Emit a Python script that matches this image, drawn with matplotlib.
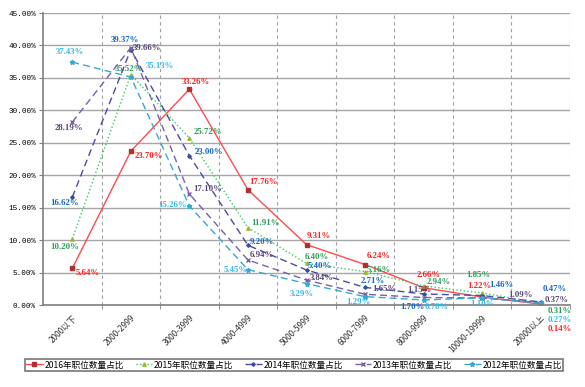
import numpy as np
import matplotlib
matplotlib.use('Agg')
import matplotlib.pyplot as plt

plt.rcParams['font.family'] = ['Noto Sans CJK SC', 'DejaVu Sans']

# salary bands and share of job postings (%) per year
categories = ['2000以下', '2000-2999', '3000-3999', '4000-4999', '5000-5999',
              '6000-7999', '8000-9999', '10000-19999', '20000以上']
y2016 = [5.64, 23.70, 33.26, 17.76, 9.31, 6.24, 2.66, 1.22, 0.14]
y2015 = [10.20, 35.52, 25.72, 11.91, 6.40, 5.16, 2.94, 1.85, 0.31]
y2014 = [16.62, 39.37, 23.00, 9.20, 5.40, 2.71, 1.70, 1.46, 0.47]
y2013 = [28.19, 39.66, 17.10, 6.94, 3.84, 1.65, 1.15, 1.09, 0.37]
y2012 = [37.43, 35.13, 15.26, 5.45, 3.29, 1.29, 0.78, 1.10, 0.27]
names = ['2016年职位数量占比', '2015年职位数量占比', '2014年职位数量占比',
         '2013年职位数量占比', '2012年职位数量占比']

# label offsets in pixels (dx to left edge of text, dy up)
offs = {
    '2016': [(3, -5), (4, -5), (-8, 7), (1, 8), (0, 9), (2, 9), (-7, 13), (-15, 11), (7, -25)],
    '2015': [(-22, -8), (-16, 6), (4, 6), (3, 5), (-2, 6), (2, 2), (3, 4), (-16, 18), (7, -8)],
    '2014': [(-22, -6), (-20, 10), (5, 4), (2, 3), (1, 4), (-4, 6), (-23, -13), (7, 11), (2, 13)],
    '2013': [(-18, -6), (2, 0), (4, 5), (2, 5), (3, 2), (7, 5), (-16, 8), (26, 3), (4, 3)],
    '2012': [(-17, 10), (15, 11), (-31, 1), (-24, 0), (-17, -10), (-19, -5), (1, -7), (-12, -6), (7, -17)],
}

series = [
    ('2016', y2016, dict(color='#FF4B4B', ls='-', marker='s', mfc='#B03030', mec='#B03030', ms=2.5), '#FF2020'),
    ('2015', y2015, dict(color='#33CC66', ls=':', marker='^', mfc='#99BB33', mec='#99BB33', ms=2.5), '#2E9B5A'),
    ('2014', y2014, dict(color='#4A4AA8', ls=(0, (5, 3)), marker='D', mfc='#3050A0', mec='#3050A0', ms=1.8), '#1566C8'),
    ('2013', y2013, dict(color='#7A5EAA', ls=(0, (5, 3)), marker='x', mfc='#7A5EAA', mec='#7A5EAA', ms=3.5), '#5A4878'),
    ('2012', y2012, dict(color='#35A9CF', ls=(0, (5, 3)), marker='*', mfc='#35A9CF', mec='#35A9CF', ms=3.5), '#33BBEE'),
]

fig = plt.figure(figsize=(5.85, 3.87), dpi=100)
ax = fig.add_axes([43/585, 1-305/387, (570-43)/585, (305-13)/387])
x = np.arange(len(categories))

for (key, vals, style, tcol), name in zip(series, names):
    ax.plot(x, vals, lw=1, label=name, **style)
    for i, v in enumerate(vals):
        dx, dy = offs[key][i]
        ax.annotate('%.2f%%' % v, (x[i], v), xytext=(dx, dy), textcoords='offset pixels',
                    ha='left', va='center', fontsize=6.3, color=tcol, fontweight='bold',
                    family=['Liberation Serif'], annotation_clip=False)

ax.set_xlim(-0.5, 8.5)
ax.set_ylim(0, 45)
ax.set_yticks(np.arange(0, 46, 5))
ax.set_yticklabels(['%.2f%%' % t for t in np.arange(0, 46, 5)], fontsize=5.5, family=['Liberation Mono'])
ax.set_xticks(x)
ax.set_xticklabels(categories, rotation=45, ha='right', rotation_mode='anchor', fontsize=6,
                   color='#333333')
ax.set_xticks(np.arange(0.5, 9, 1), minor=True)
ax.tick_params(axis='x', which='major', length=0, pad=6)
ax.tick_params(axis='x', which='minor', length=3, color='#808080')
ax.tick_params(axis='y', length=3, color='#808080', pad=2)
ax.grid(axis='y', color='#A6A6A6', lw=1)
ax.grid(axis='x', which='minor', color='#A0A0A0', ls=(0, (3, 3)), lw=0.8)
ax.set_axisbelow(True)
for s in ['top', 'right']:
    ax.spines[s].set_visible(False)
ax.spines['left'].set_color('#808080')
ax.spines['bottom'].set_color('#808080')
ax.spines['left'].set_linewidth(1.2)
ax.spines['bottom'].set_linewidth(1.2)

leg = fig.legend(loc='center', bbox_to_anchor=(294/585, 1-365/387), ncol=5, fontsize=6.2,
                 frameon=True, fancybox=False, edgecolor='#555555', handlelength=1.9,
                 handletextpad=0.2, columnspacing=1.4, borderpad=0.15, labelspacing=0)
leg.get_frame().set_linewidth(1.2)

fig.savefig('out.png', dpi=100)
